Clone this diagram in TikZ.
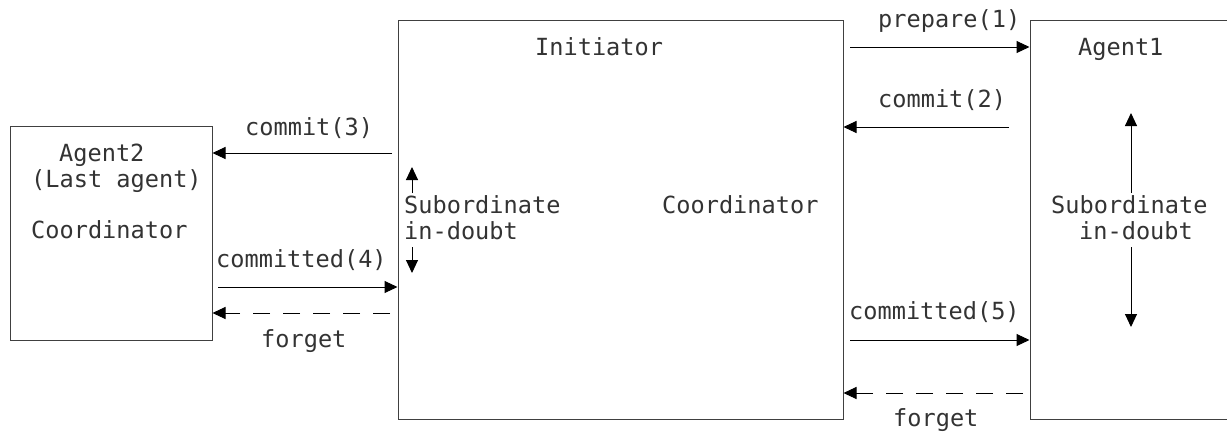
\documentclass[tikz,border=0pt]{standalone}
\usepackage{fontspec}
\newfontfamily\diagmono{DejaVu Sans Mono}
\usetikzlibrary{arrows.meta}
\begin{document}
\begin{tikzpicture}[x=1pt,y=-1pt,
  box/.style={draw=black!75, line width=1pt, inner sep=0pt, fill=none},
  lbl/.style={font=\diagmono\fontsize{23.6}{26}\selectfont, text=black!80, inner sep=0pt, anchor=base west},
  arr/.style={line width=1pt, -{Triangle[length=13pt,width=12pt]}},
  darr/.style={arr, dash pattern=on 17pt off 13pt}]
\clip (0,0) rectangle (1227,432);
\fill[white] (0,0) rectangle (1227,432);
% boxes
\node[box, minimum width=445pt, minimum height=399pt] (ini) at (620.5,219.5) {};
\node[box, minimum width=230pt, minimum height=399pt] (a1) at (1145,219.5) {};
\node[box, minimum width=202pt, minimum height=214pt] (ag2) at (111,233) {};
% box texts
\node[lbl] (tini) at (535,55) {Initiator};
\node[lbl] (tisub) at (404,213) {Subordinate};
\node[lbl] (tidbt) at (404,239) {in-doubt};
\node[lbl] (ticoord) at (662,213) {Coordinator};
\node[lbl] (ta1) at (1078,55) {Agent1};
\node[lbl] (tasub) at (1051,213) {Subordinate};
\node[lbl] (tadbt) at (1079,239) {in-doubt};
\node[lbl] (tag2) at (59,161) {Agent2};
\node[lbl] (tlast) at (31,187) {(Last agent)};
\node[lbl] (tcoord2) at (31,238) {Coordinator};
% message labels
\node[lbl] (lp1) at (878,27) {prepare(1)};
\node[lbl] (lc2) at (878,107) {commit(2)};
\node[lbl] (lc5) at (849,319) {committed(5)};
\node[lbl] (lf1) at (893,426) {forget};
\node[lbl] (lc3) at (245,135) {commit(3)};
\node[lbl] (lc4) at (216,267) {committed(4)};
\node[lbl] (lf2) at (261,347) {forget};
% free ends
\coordinate (sp1) at (850,47);
\coordinate (sc2) at (1009,127);
\coordinate (sc5) at (850,340);
\coordinate (sf1) at (1023,393);
\coordinate (sc3) at (392,153);
\coordinate (sc4) at (218,287);
\coordinate (sf2) at (390,313);
% message arrows
\draw[arr] (sp1) -- (sp1 -| a1.west);
\draw[arr] (sc2) -- (sc2 -| ini.east);
\draw[arr] (sc5) -- (sc5 -| a1.west);
\draw[darr] (sf1) -- (sf1 -| ini.east);
\draw[arr] (sc3) -- (sc3 -| ag2.east);
\draw[arr] (sc4) -- (sc4 -| ini.west);
\draw[darr] (sf2) -- (sf2 -| ag2.east);
% in-doubt arrows
\coordinate (iu0) at (412,193); \coordinate (iu1) at (412,167);
\coordinate (id0) at (412,247); \coordinate (id1) at (412,273);
\coordinate (au0) at (1131,193); \coordinate (au1) at (1131,113);
\coordinate (ad0) at (1131,247); \coordinate (ad1) at (1131,327);
\draw[arr] (iu0) -- (iu1);
\draw[arr] (id0) -- (id1);
\draw[arr] (au0) -- (au1);
\draw[arr] (ad0) -- (ad1);
\end{tikzpicture}
\end{document}
